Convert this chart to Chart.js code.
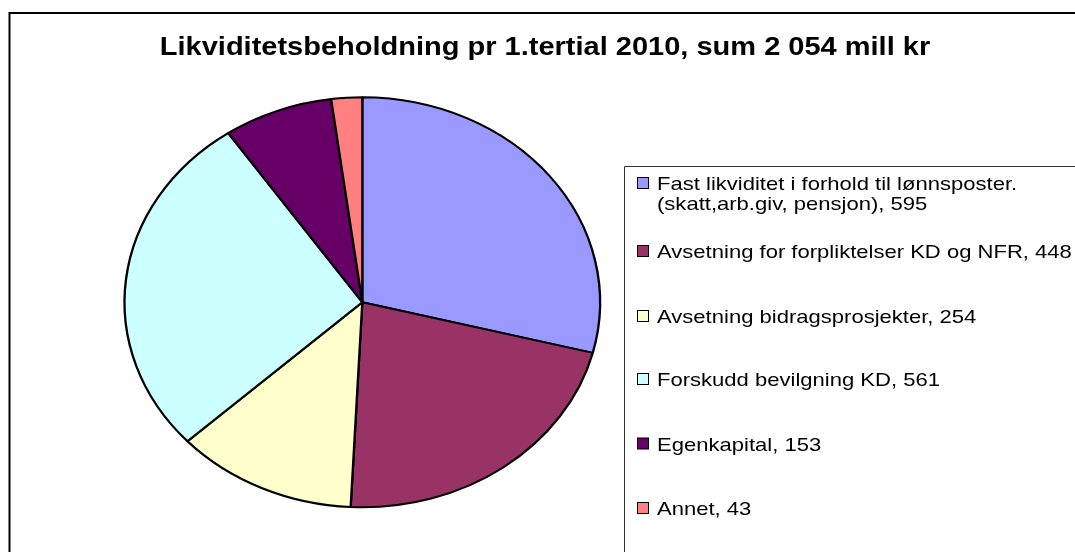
<!DOCTYPE html>
<html>
<head>
<meta charset="utf-8">
<script src="https://cdn.jsdelivr.net/npm/chart.js@4"></script>
<style>
  body { margin: 0; background: #fff; }
  canvas { display: block; }
</style>
</head>
<body>
<canvas id="pie" width="1075" height="552"></canvas>
<script>
const title = 'Likviditetsbeholdning pr 1.tertial 2010, sum 2 054 mill kr';
const labels = [
    'Fast likviditet i forhold til lønnsposter.\n(skatt,arb.giv, pensjon)',
    'Avsetning for forpliktelser KD og NFR',
    'Avsetning bidragsprosjekter',
    'Forskudd bevilgning KD',
    'Egenkapital',
    'Annet'
];
const values = [595, 448, 254, 561, 153, 43];
const colors = ['#9999FF', '#993366', '#FFFFCC', '#CCFFFF', '#660066', '#FF8080'];

// the original picture is stretched sideways, pie and text alike
const SX = 1.16;
const FONT = '"Liberation Sans", Arial, sans-serif';

function wideText(ctx, text, x, y, align) {
    ctx.save();
    ctx.translate(x, y);
    ctx.scale(SX, 1);
    ctx.textAlign = align;
    ctx.fillText(text, 0, 0);
    ctx.restore();
}

const stretchPie = {
    id: 'stretchPie',
    beforeDatasetsDraw(chart) {
        const cx = chart.getDatasetMeta(0).data[0].x;
        const ctx = chart.ctx;
        ctx.save();
        ctx.translate(cx, 0);
        ctx.scale(SX, 1);
        ctx.translate(-cx, 0);
    },
    afterDatasetsDraw(chart) {
        chart.ctx.restore();
    }
};

const decor = {
    id: 'decor',
    afterDraw(chart) {
        const ctx = chart.ctx;
        const W = chart.width, H = chart.height;

        // outer frame (only top and left are visible)
        ctx.save();
        ctx.strokeStyle = '#000';
        ctx.lineWidth = 2;
        ctx.beginPath();
        ctx.moveTo(W, 13);
        ctx.lineTo(9.5, 13);
        ctx.lineTo(9.5, H);
        ctx.stroke();

        // title
        ctx.fillStyle = '#000';
        ctx.textBaseline = 'alphabetic';
        ctx.font = 'bold 25px ' + FONT;
        wideText(ctx, title, 545, 55, 'center');

        // legend box
        ctx.lineWidth = 1;
        ctx.strokeStyle = '#333';
        ctx.beginPath();
        ctx.moveTo(W, 166.5);
        ctx.lineTo(624.5, 166.5);
        ctx.lineTo(624.5, H);
        ctx.stroke();

        // legend entries
        const rows = [183, 251, 316, 379, 443.5, 508];
        ctx.font = '19px ' + FONT;
        labels.forEach((lab, i) => {
            const y = rows[i];
            ctx.fillStyle = colors[i];
            ctx.fillRect(637.5, y - 5.5, 11, 11);
            ctx.strokeStyle = '#000';
            ctx.strokeRect(637.5, y - 5.5, 11, 11);
            ctx.fillStyle = '#000';
            const lines = (lab + ', ' + values[i]).split('\n');
            lines.forEach((ln, j) => {
                wideText(ctx, ln, 657, y + 7 + j * 20, 'left');
            });
        });
        ctx.restore();
    }
};

new Chart(document.getElementById('pie'), {
    type: 'pie',
    data: {
        labels: labels,
        datasets: [{
            data: values,
            backgroundColor: colors,
            borderColor: '#000',
            borderWidth: 2
        }]
    },
    options: {
        responsive: false,
        animation: false,
        events: [],
        radius: 205,
        layout: {
            padding: { left: 0, right: 350.4, top: 52.6, bottom: 0 }
        },
        plugins: {
            legend: { display: false },
            tooltip: { enabled: false },
            title: { display: false }
        }
    },
    plugins: [stretchPie, decor]
});
</script>
</body>
</html>
